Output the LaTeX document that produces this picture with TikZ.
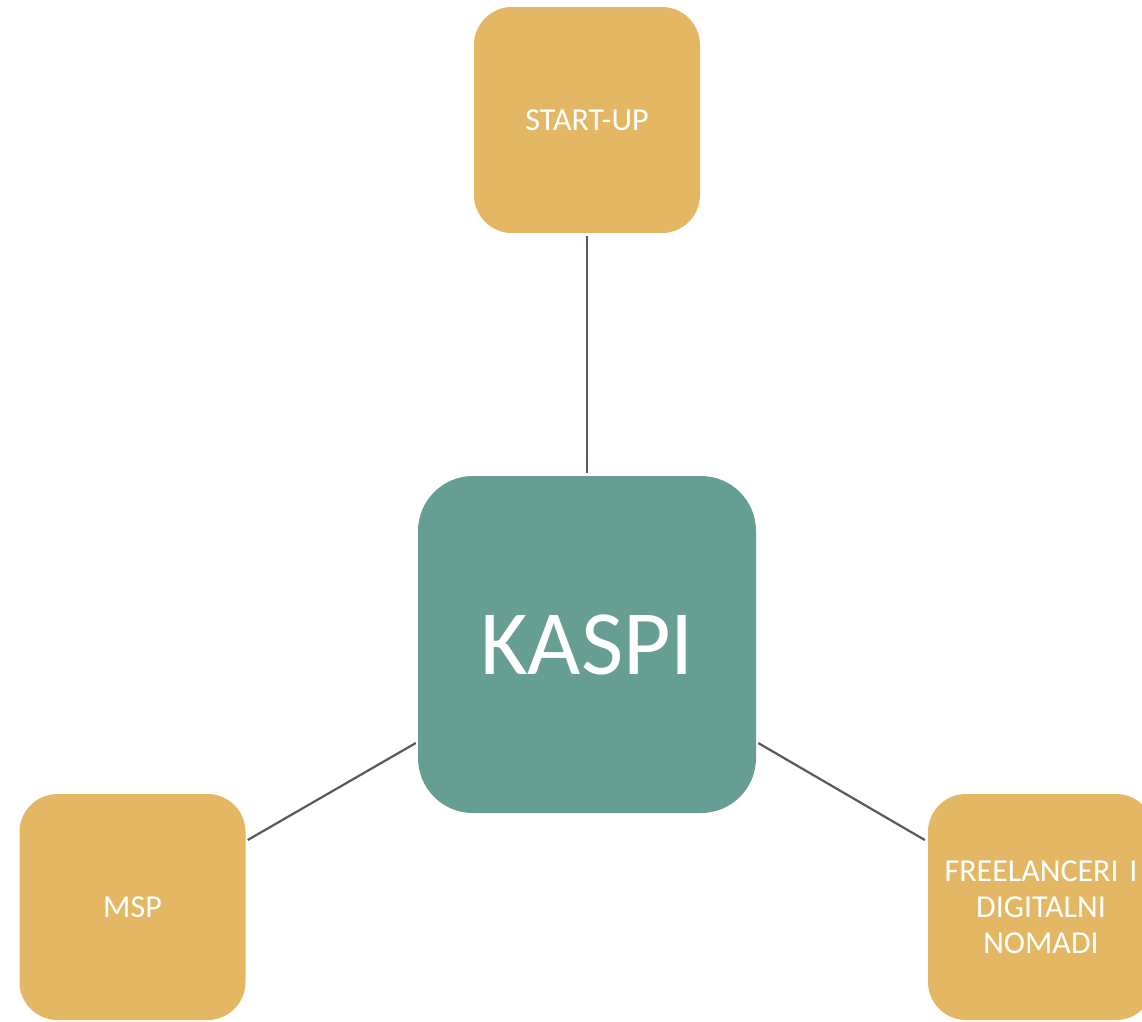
\documentclass[tikz,border=0pt]{standalone}
\usepackage{fontspec}
\setmainfont{Carlito}
\usetikzlibrary{calc}
\definecolor{gold}{HTML}{E4B764}
\definecolor{teal}{HTML}{669E93}
\definecolor{linec}{HTML}{595959}
\begin{document}
\begin{tikzpicture}[x=1pt,y=1pt,
  sidebox/.style={fill=gold, rounded corners=38pt, minimum width=226pt, minimum height=226pt, inner sep=0pt, text=white, font=\fontsize{32}{36}\selectfont, align=center},
  hubbox/.style={fill=teal, rounded corners=55pt, minimum width=338pt, minimum height=337pt, inner sep=0pt, text=white, font=\fontsize{92}{110}\selectfont},
  conn/.style={draw=linec, line width=2.2pt}]
\useasboundingbox (0,0) rectangle (1142,-1021);
\clip (0,0) rectangle (1142,-1021);
\node[hubbox] (k) at (587,-644.5) {KASPI};
\node[sidebox] (s) at (587,-120) {START-UP};
\node[sidebox] (m) at (132.5,-907) {MSP};
\node[sidebox, text width=215pt] (f) at (1041,-907) {FREELANCERI I\\DIGITALNI\\NOMADI};
\draw[conn] ([yshift=-3pt]s.south) -- ([yshift=3pt]k.north);
\draw[conn] ($(m.east)+(2,67)$) -- ($(k.west)+(-2,-98.5)$);
\draw[conn] ($(k.east)+(2,-98.5)$) -- ($(f.west)+(-3,67)$);
\end{tikzpicture}
\end{document}
